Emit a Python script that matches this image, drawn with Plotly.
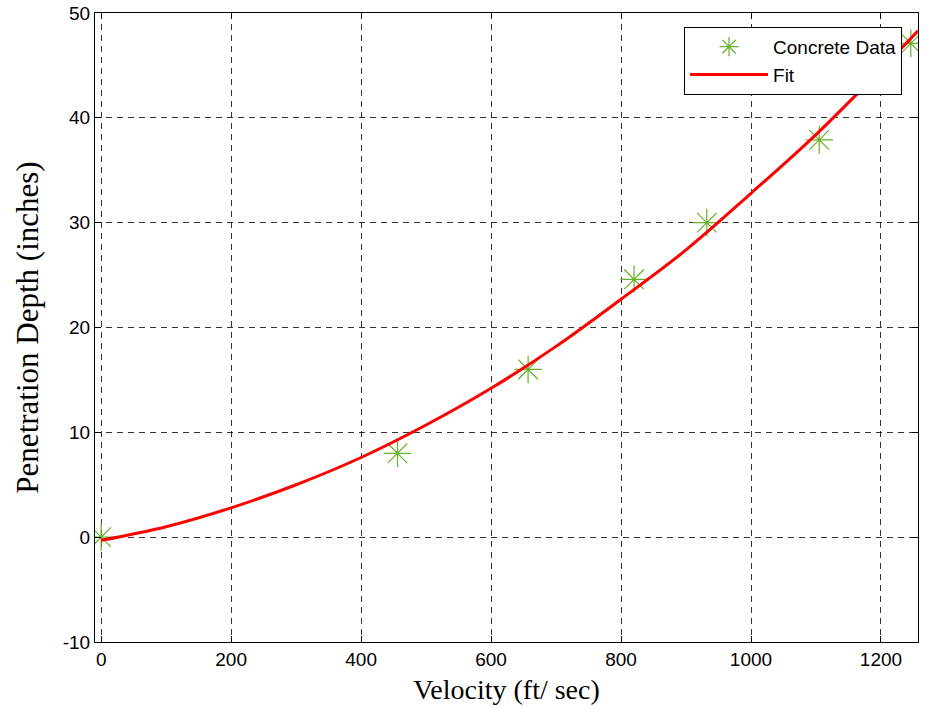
import plotly.graph_objects as go

data_velocity = [0, 456, 657, 820, 932, 1105, 1246]
data_depth = [0.0, 8.0, 16.0, 24.6, 30.0, 37.9, 47.1]

# Fit curve values
fit_velocity = [0, 100, 200, 300, 400, 500, 600, 700, 800, 900, 1000, 1100, 1200, 1257]
fit_depth = [-0.3, 1.0, 2.8, 5.0, 7.6, 10.7, 14.2, 18.2, 22.7, 27.4, 32.8, 38.4, 44.6, 48.3]

x_ticks = [0, 200, 400, 600, 800, 1000, 1200]
x_tick_labels = ["0", "200", "400", "600", "800", "1000", "1200"]
y_ticks = [-10, 0, 10, 20, 30, 40, 50]
y_tick_labels = ["-10", "0", "10", "20", "30", "40", "50"]

fig = go.Figure()
fig.add_trace(go.Scatter(
    x=data_velocity, y=data_depth, mode="markers", name="Concrete Data",
    marker=dict(symbol="asterisk-open", size=23, color="#66b22a",
                line=dict(color="#66b22a", width=1.2)),
))
fig.add_trace(go.Scatter(
    x=fit_velocity, y=fit_depth, mode="lines", name="Fit",
    line=dict(color="#ff0000", width=3, shape="spline"),
))

axis_common = dict(
    showline=True, linecolor="black", linewidth=1, mirror="ticks",
    ticks="inside", ticklen=6, tickcolor="black",
    showgrid=True, gridcolor="rgba(0,0,0,0.8)", gridwidth=1, griddash="6px,5px",
    zeroline=False, automargin=False,
    tickfont=dict(family="Liberation Sans, Arial", size=19, color="black"),
)

fig.update_layout(
    width=930, height=707,
    margin=dict(l=95, r=12, t=13, b=65),
    paper_bgcolor="white", plot_bgcolor="white",
    showlegend=True,
    legend=dict(
        x=0.9806, y=0.978, xanchor="right", yanchor="top",
        bgcolor="white", bordercolor="black", borderwidth=1,
        font=dict(family="Liberation Sans, Arial", size=19, color="black"),
        tracegroupgap=0, itemwidth=78,
    ),
    xaxis=dict(
        range=[-9.5, 1257], tickvals=x_ticks, ticktext=x_tick_labels,
        title=dict(text="Velocity (ft/ sec)", standoff=10,
                   font=dict(family="Liberation Serif, Times New Roman", size=28, color="black")),
        **axis_common,
    ),
    yaxis=dict(
        range=[-10, 50], tickvals=y_ticks, ticktext=y_tick_labels,
        title=dict(text="Penetration Depth (inches)", standoff=14,
                   font=dict(family="Liberation Serif, Times New Roman", size=31, color="black")),
        **axis_common,
    ),
)

fig.write_html("out.html")
